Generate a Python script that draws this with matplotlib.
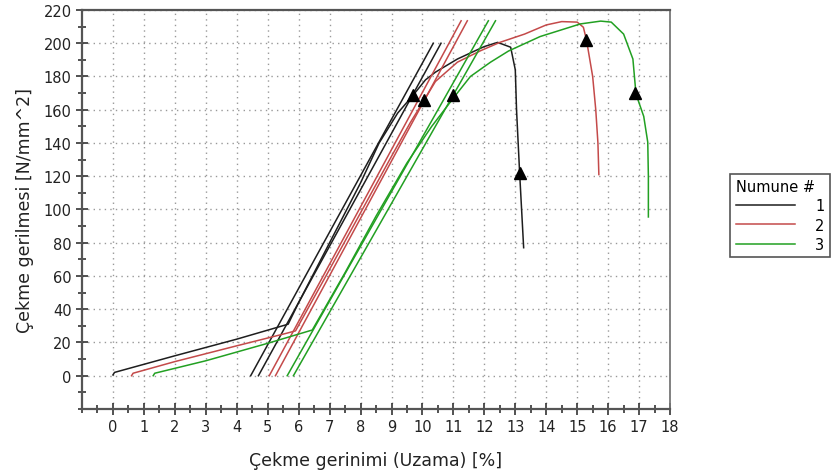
import numpy as np
import matplotlib
matplotlib.use("Agg")
import matplotlib.pyplot as plt
from matplotlib.ticker import MultipleLocator

# DATA #
# specimen 1 (black)
strain_1 = [0.0, 0.05, 2.0, 4.0, 5.2, 5.66, 6.0, 6.5, 7.0, 7.5, 8.0, 8.6, 9.2, 9.71,
            10.1, 10.42, 11.13, 11.65, 12.0, 12.43, 12.85, 13.0, 13.04, 13.14, 13.27]
stress_1 = [0.5, 2.0, 12.0, 22.0, 28.5, 31.0, 44.0, 62.0, 80.0, 98.0, 116.0, 140.0, 158.0, 169.0,
            178.0, 182.6, 190.5, 195.0, 198.0, 200.5, 197.6, 184.0, 160.0, 122.0, 77.0]

# specimen 2 (red)
strain_2 = [0.6, 0.65, 2.0, 4.0, 5.6, 5.9, 7.0, 8.0, 9.0, 9.6, 10.03, 10.42, 11.13, 11.88,
            12.5, 13.3, 14.0, 14.5, 15.0, 15.2, 15.3, 15.5, 15.6, 15.67, 15.7]
stress_2 = [0.0, 1.5, 8.5, 18.0, 25.5, 27.0, 64.0, 98.0, 132.0, 152.0, 165.0, 177.0, 188.6, 195.5,
            200.5, 205.5, 211.0, 213.0, 212.7, 209.6, 202.0, 180.0, 160.0, 140.0, 121.0]

# specimen 3 (green)
strain_3 = [1.3, 1.35, 3.0, 5.0, 6.44, 7.5, 8.5, 9.5, 10.3, 11.04, 11.55, 12.2, 12.78, 13.8,
            15.1, 15.76, 16.1, 16.5, 16.8, 16.9, 17.15, 17.28, 17.3, 17.3]
stress_3 = [0.0, 1.5, 9.0, 19.5, 27.5, 62.0, 96.0, 128.0, 150.0, 168.0, 180.0, 188.6, 195.3, 204.0,
            211.6, 213.3, 212.7, 205.5, 190.5, 169.4, 156.0, 140.5, 120.0, 95.5]

# parallel offset lines, [start, end] for each line
offset_strain_1 = [[4.45, 10.35], [4.7, 10.6]]
offset_stress_1 = [[0.0, 200.0], [0.0, 200.0]]
offset_strain_2 = [[5.05, 11.25], [5.25, 11.45]]
offset_stress_2 = [[0.0, 213.5], [0.0, 213.5]]
offset_strain_3 = [[5.63, 12.13], [5.83, 12.36]]
offset_stress_3 = [[0.0, 213.5], [0.0, 213.5]]

# triangle markers (yield / break points)
mark_strain = [9.71, 13.14, 10.06, 15.3, 11.0, 16.88]
mark_stress = [169.0, 122.0, 166.0, 202.0, 169.0, 170.0]

labels = ["1", "2", "3"]
colors = ["#1e1e1e", "#c44a4a", "#22a022"]

# PLOT #
fig = plt.figure(figsize=(8.31, 4.77), dpi=100)
ax = fig.add_axes([0.0987, 0.1405, 0.7076, 0.8365])

curves = [(strain_1, stress_1, offset_strain_1, offset_stress_1),
          (strain_2, stress_2, offset_strain_2, offset_stress_2),
          (strain_3, stress_3, offset_strain_3, offset_stress_3)]

for (sx, sy, ox, oy), lab, col in zip(curves, labels, colors):
    ax.plot(sx, sy, color=col, lw=1.1, label=lab)
    for lx, ly in zip(ox, oy):
        ax.plot(lx, ly, color=col, lw=1.1)

ax.plot(mark_strain, mark_stress, ls="none", marker="^", ms=8, color="black")

ax.set_xlim(-1, 18)
ax.set_ylim(-20, 220)
ax.set_xticks(range(0, 19))
ax.set_yticks(range(0, 221, 20))
ax.xaxis.set_minor_locator(MultipleLocator(0.5))
ax.yaxis.set_minor_locator(MultipleLocator(10))
ax.tick_params(which="major", direction="inout", length=8, width=1.2, color="#333333",
               labelsize=10.5, labelcolor="#222222")
ax.tick_params(which="minor", direction="inout", length=6, width=1.2, color="#333333")
ax.grid(True, which="major", color="#999999", ls=(0, (1, 3)), lw=1)

for side in ["left", "bottom", "top"]:
    ax.spines[side].set_color("#555555")
    ax.spines[side].set_linewidth(1.6)
ax.spines["right"].set_color("#777777")
ax.spines["right"].set_linewidth(1.3)

ax.set_xlabel("Çekme gerinimi (Uzama) [%]", fontsize=12.5, color="#222222", labelpad=12)
ax.set_ylabel("Çekme gerilmesi [N/mm^2]", fontsize=12.5, color="#222222", labelpad=7)

leg = fig.legend(loc="upper left", bbox_to_anchor=(0.879, 0.634), borderaxespad=0,
                 title="Numune #", alignment="left", fontsize=10.5, title_fontsize=10.5,
                 handlelength=4.0, handletextpad=1.4, fancybox=False, framealpha=1,
                 edgecolor="#555555", borderpad=0.4, labelspacing=0.28)
leg.get_frame().set_linewidth(1.2)

fig.savefig("out.png", dpi=100)
